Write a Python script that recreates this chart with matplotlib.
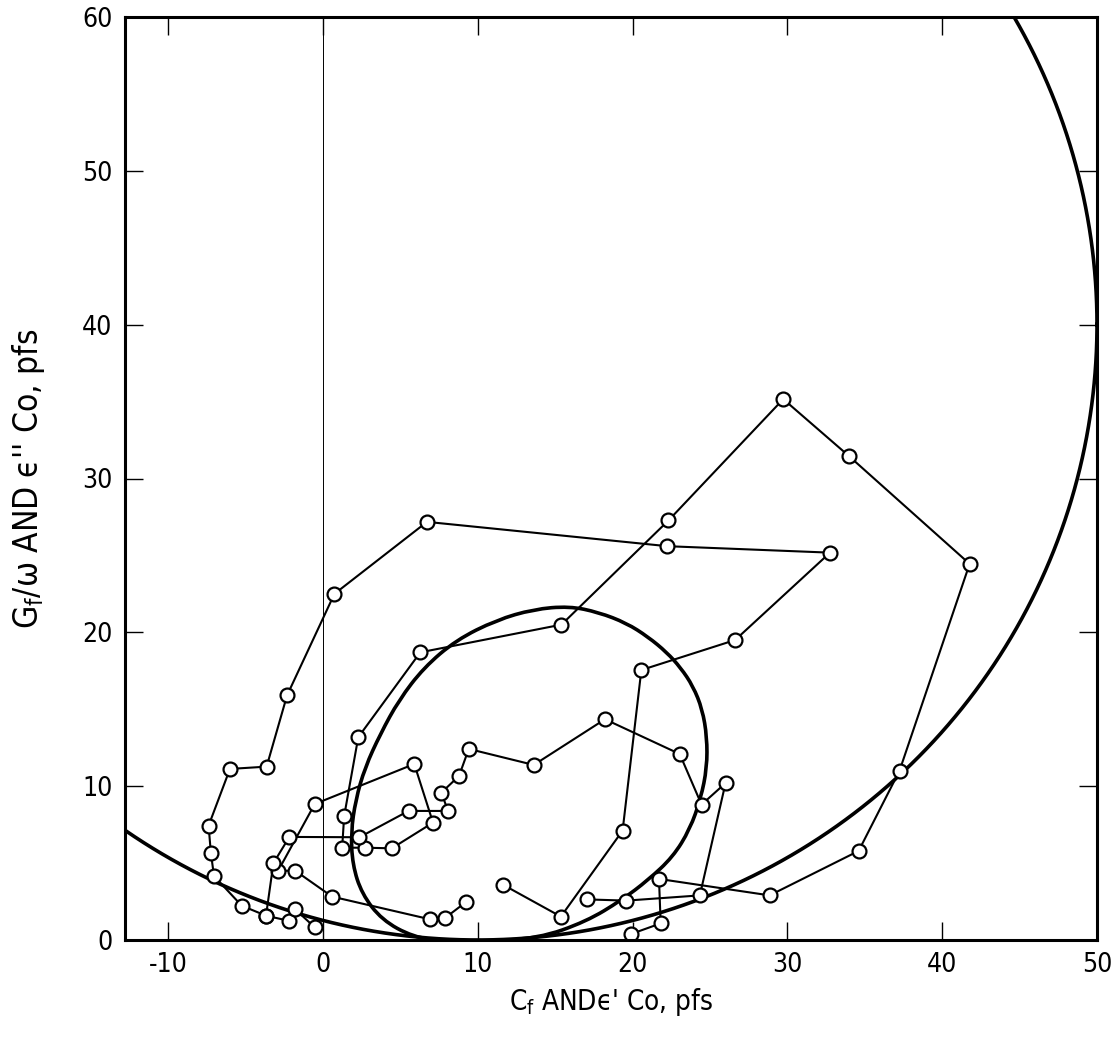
import matplotlib.pyplot as plt
import numpy as np
from matplotlib.path import Path
from matplotlib.patches import PathPatch

# measured points, three connected sweeps (x = Cf / eps' Co, y = Gf/w / eps'' Co)
s1_x = [11.61, 15.36, 19.35, 20.56, 26.62, 32.75, 22.24, 6.71, 0.73, -2.33, -3.65, -6.02,
        -7.40, -7.25, -7.05, -5.26, -3.69, -2.18, -1.81, -0.54]
s1_y = [3.60, 1.52, 7.11, 17.55, 19.50, 25.18, 25.60, 27.18, 22.50, 15.90, 11.27, 11.12,
        7.43, 5.64, 4.16, 2.23, 1.58, 1.24, 2.00, 0.82]

s2_x = [19.90, 21.81, 21.70, 28.85, 34.60, 37.24, 41.77, 33.96, 29.73, 22.31, 15.40, 6.28,
        2.27, 1.36, 1.23, 2.68, 4.44, 7.10, 5.89, -0.54, -2.91, -1.81, 0.58, 6.93, 7.85, 9.26]
s2_y = [0.39, 1.08, 3.97, 2.90, 5.79, 11.00, 24.45, 31.47, 35.16, 27.27, 20.50, 18.70,
        13.18, 8.06, 6.00, 6.00, 5.96, 7.63, 11.44, 8.84, 4.49, 4.51, 2.82, 1.34, 1.41, 2.49]

s3_x = [-3.69, -3.21, -2.18, 2.35, 5.52, 8.07, 7.64, 8.78, 9.41, 13.61, 18.21, 23.04,
        24.45, 26.00, 24.34, 19.59, 17.02]
s3_y = [1.58, 5.00, 6.70, 6.68, 8.39, 8.39, 9.58, 10.66, 12.42, 11.38, 14.35, 12.09,
        8.80, 10.20, 2.90, 2.56, 2.64]

# inner closed loop (used as control points of a smooth closed path)
loop_x = [10.0, 13.9, 17.0, 19.3, 21.0, 22.6, 23.7, 24.4, 24.8, 24.8, 24.5, 23.9, 23.1,
          22.2, 21.0, 19.6, 17.8, 15.9, 13.6, 11.2, 8.6, 6.5, 4.9, 3.7, 2.7, 2.1, 1.8,
          1.9, 2.5, 3.8, 5.8, 7.9]
loop_y = [-0.1, 0.1, 1.2, 2.6, 3.9, 5.4, 7.2, 9.2, 11.2, 13.2, 15.0, 16.5, 17.7,
          18.7, 19.7, 20.6, 21.3, 21.7, 21.5, 20.8, 19.5, 17.7, 15.6, 13.4, 11.2, 9.1, 7.0,
          4.9, 3.0, 1.3, 0.2, -0.1]

# large circle: centre and radius
circ_cx, circ_cy, circ_r = 10.0, 40.0, 40.0

xticks = [-10, 0, 10, 20, 30, 40, 50]
yticks = [0, 10, 20, 30, 40, 50, 60]

plt.rcParams['font.family'] = ['DejaVu Sans']
plt.rcParams['font.stretch'] = 'condensed'

fig = plt.figure(figsize=(11.13, 10.38), dpi=100)
ax = fig.add_axes([125 / 1113, 98 / 1038, 972 / 1113, 923 / 1038])

t = np.linspace(0, 2 * np.pi, 720)
ax.plot(circ_cx + circ_r * np.cos(t), circ_cy + circ_r * np.sin(t), color='black', lw=2.6)

# smooth closed loop: midpoints on the curve, read points as quadratic control points
pts = np.column_stack([loop_x, loop_y])
mids = (pts + np.roll(pts, -1, axis=0)) / 2
verts = [mids[-1]]
codes = [Path.MOVETO]
for i in range(len(pts)):
    verts += [pts[i], mids[i]]
    codes += [Path.CURVE3, Path.CURVE3]
ax.add_patch(PathPatch(Path(verts, codes), fill=False, edgecolor='black', lw=2.6))

ax.axvline(0, color='black', lw=0.7)

for xs, ys in [(s1_x, s1_y), (s2_x, s2_y), (s3_x, s3_y)]:
    ax.plot(xs, ys, color='black', lw=1.5, marker='o', ms=10, mfc='white', mec='black',
            mew=1.6)

ax.set_xlim(-12.8, 50)
ax.set_ylim(0, 60)
ax.set_xticks(xticks)
ax.set_yticks(yticks)
ax.set_xticklabels(['-10' if v < 0 else str(v) for v in xticks])
ax.tick_params(direction='in', length=13, width=1.0, top=True, right=True,
               labelsize=19, pad=9)
for sp in ax.spines.values():
    sp.set_linewidth(2.2)

ax.set_xlabel("C$_\\mathregular{f}$ AND\u03f5' Co, pfs", fontsize=20)
ax.set_ylabel("G$_\\mathregular{f}$/\u03c9 AND \u03f5'' Co, pfs", fontsize=24)
ax.xaxis.set_label_coords(0.5, -0.05)
ax.yaxis.set_label_coords(-0.08, 0.5)

fig.savefig('out.png', dpi=100)
